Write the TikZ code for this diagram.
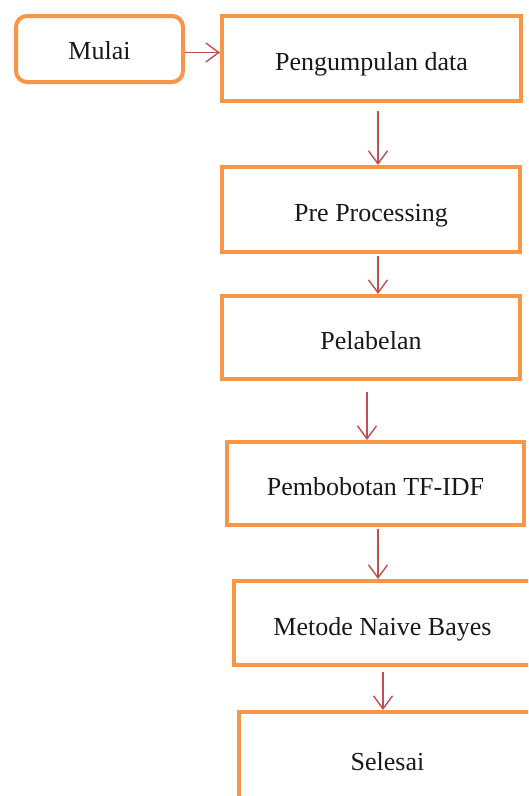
\documentclass[tikz,border=0pt]{standalone}
\usepackage{fontspec}
\setmainfont{Liberation Serif}
\usetikzlibrary{arrows.meta}
\definecolor{boxorange}{HTML}{F79646}
\definecolor{arrred}{HTML}{C0504D}
\begin{document}
\begin{tikzpicture}[x=1pt,y=-1pt,
  box/.style={draw=boxorange, line width=4pt, fill=white, rectangle, inner sep=0pt,
    font=\fontsize{26}{30}\selectfont, text=black!90, text height=24pt, text depth=0pt},
  startbox/.style={box, rounded corners=11pt, text height=21.5pt, text depth=0pt},
  arr/.style={draw=arrred, line width=1.4pt, -{Straight Barb[length=13pt,width=19pt,line width=1.4pt]}}]
\useasboundingbox (0,0) rectangle (528,796);
\clip (0,0) rectangle (528,796);
\fill[white] (0,0) rectangle (528,796);
\node[startbox, minimum width=167pt, minimum height=66pt] (mulai) at (99.5,49) {Mulai};
\node[box, minimum width=299pt, minimum height=85pt] (b1) at (371.5,58.5) {Pengumpulan data};
\node[box, minimum width=298pt, minimum height=85pt] (b2) at (371,209.5) {Pre Processing};
\node[box, minimum width=298pt, minimum height=83pt] (b3) at (371,337.5) {Pelabelan};
\node[box, minimum width=297pt, minimum height=83pt] (b4) at (375.5,483.5) {Pembobotan TF-IDF};
\node[box, minimum width=297pt, minimum height=84pt] (b5) at (382.5,623) {Metode Naive Bayes};
\node[box, minimum width=297pt, minimum height=92pt] (b6) at (387.5,758) {Selesai};
% connectors
\draw[arr] ([yshift=-3.5pt]mulai.east) -- ([yshift=-3.5pt]mulai.east -| b1.west);
\draw[arr, shorten <=8pt] ([xshift=6.5pt]b1.south) -- ([xshift=6.5pt]b1.south |- b2.north);
\draw[arr] ([xshift=7pt,yshift=-2pt]b2.south) -- ([xshift=7pt]b2.south |- b3.north);
\draw[arr, shorten <=11pt] ([xshift=-4pt]b3.south) -- ([xshift=-4pt]b3.south |- b4.north);
\draw[arr] ([xshift=2.5pt,yshift=-2pt]b4.south) -- ([xshift=2.5pt]b4.south |- b5.north);
\draw[arr, shorten <=3pt] ([xshift=0.5pt,yshift=-2pt]b5.south) -- ([xshift=0.5pt]b5.south |- b6.north);
\end{tikzpicture}
\end{document}
